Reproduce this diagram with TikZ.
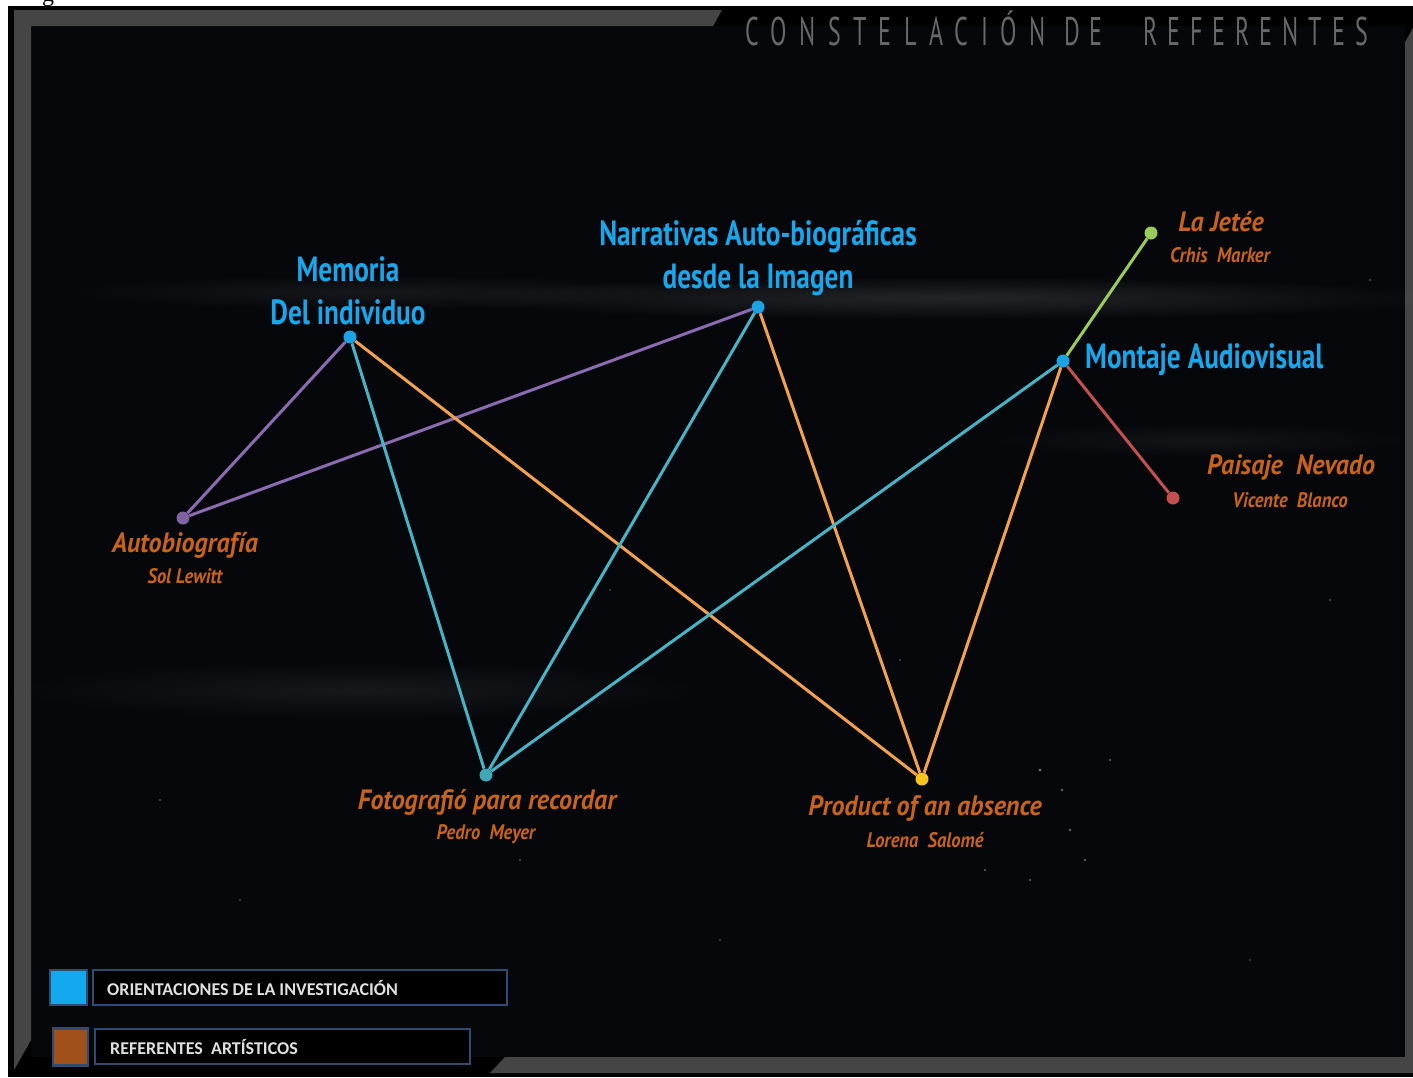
\documentclass[tikz,border=0pt]{standalone}
\usepackage{fontspec}
\usetikzlibrary{fadings}
\tikzfading[name=softglow, inner color=transparent!0, outer color=transparent!100]
\newfontfamily\bluefont[FakeStretch=0.78]{PT Sans}
\newfontfamily\orfont[FakeStretch=0.93]{PT Sans}
\newfontfamily\orsubfont[FakeStretch=0.88]{PT Sans}
\newfontfamily\titlefont[FakeStretch=0.6,LetterSpace=25]{PT Sans}
\newfontfamily\titlewidefont[FakeStretch=0.6,LetterSpace=31]{PT Sans}
\newfontfamily\legfont{Carlito}
\newfontfamily\serfont{Liberation Serif}
\definecolor{bg}{HTML}{06070A}
\definecolor{band}{HTML}{454545}
\definecolor{bluetxt}{HTML}{1AA6EA}
\definecolor{orangetxt}{HTML}{C8631C}
\definecolor{lorange}{HTML}{F2A14E}
\definecolor{lteal}{HTML}{47B3C4}
\definecolor{lpurple}{HTML}{8A6BB0}
\definecolor{lgreen}{HTML}{9BCB5B}
\definecolor{lred}{HTML}{C2504E}
\definecolor{dyellow}{HTML}{F6C21C}
\definecolor{dblue}{HTML}{1BA3E6}
\definecolor{dteal}{HTML}{3FA8B8}
\definecolor{dpurple}{HTML}{7E62A2}
\definecolor{legblue}{HTML}{12A9EF}
\definecolor{legorange}{HTML}{A0501A}
\definecolor{legborder}{HTML}{2E4C72}
\definecolor{titlegray}{HTML}{686868}
\tikzset{
  dot/.style={circle, minimum size=13pt, inner sep=0pt},
  edge/.style={line width=3pt},
  bluelabel/.style={text=bluetxt, inner sep=0pt, font=\bluefont\bfseries\fontsize{35}{43}\selectfont, align=center},
  ortitle/.style={text=orangetxt, inner sep=0pt, font=\orfont\bfseries\itshape\fontsize{28}{30}\selectfont},
  orsub/.style={text=orangetxt, inner sep=0pt, font=\orsubfont\bfseries\itshape\fontsize{21}{23}\selectfont},
  legbox/.style={draw=legborder, line width=1.5pt, fill=black, inner sep=0pt},
  legsq/.style={draw=legborder, line width=2.5pt, inner sep=0pt},
  legtext/.style={text=white!88!black, inner sep=0pt, font=\legfont\bfseries\fontsize{18}{20}\selectfont, anchor=west},
  titleword/.style={anchor=base west, inner sep=0pt, text=titlegray, font=\titlefont\fontsize{40}{42}\selectfont},
  glow/.style={fill=white, path fading=softglow}
}
\begin{document}
\begin{tikzpicture}[x=1pt,y=-1pt]
\useasboundingbox (0,0) rectangle (1413,1077);
\fill[white] (0,0) rectangle (1413,1077);
\node[anchor=base, inner sep=0pt, font=\serfont\fontsize{24}{24}\selectfont] (gfrag) at (48,1) {g};
% panel
\fill[black] (8,6) rectangle (1413,1077);
\fill[bg] (31,26) rectangle (1405,1057);
\fill[band] (14,10) -- (722,10) -- (713,26) -- (31,26) -- (31,1040) -- (14,1070) -- cycle;
\fill[band] (505,1057) -- (1405,1057) -- (1405,42) -- (1413,28) -- (1413,1073) -- (490,1073) -- cycle;
% nebula streaks
\path[glow, opacity=0.12] (950,298) ellipse (520 and 22);
\path[glow, opacity=0.07] (380,292) ellipse (330 and 18);
\path[glow, opacity=0.07] (360,690) ellipse (360 and 30);
\path[glow, opacity=0.06] (1200,440) ellipse (220 and 18);
% stars
\foreach \sx/\sy/\so in {1040/770/0.5,1062/790/0.4,1085/860/0.35,1030/880/0.3,1005/810/0.3,1070/830/0.4,985/870/0.3,1110/760/0.3,520/860/0.25,460/1000/0.25,1330/600/0.25,1370/280/0.25,160/800/0.25,240/900/0.2,720/940/0.2,900/660/0.2,1250/960/0.2,610/590/0.2}
  \fill[white, opacity=\so] (\sx,\sy) circle (1.3);
% title
\node[titleword, font=\titlewidefont\fontsize{40}{42}\selectfont] (title1) at (745,45) {CONSTELACIÓN};
\node[titleword] (title2) at (1064,45) {DE};
\node[titleword] (title3) at (1143,45) {REFERENTES};
% dots
\node[dot, fill=dblue] (mem) at (350,337) {};
\node[dot, fill=dblue] (nar) at (758,307) {};
\node[dot, fill=dblue] (mon) at (1063,361) {};
\node[dot, fill=dpurple] (aut) at (183,518) {};
\node[dot, fill=dteal] (fot) at (486,775) {};
\node[dot, fill=dyellow] (pro) at (922,779) {};
\node[dot, fill=lgreen] (jet) at (1151,233) {};
\node[dot, fill=lred] (pai) at (1173,498) {};
% edges
\begin{scope}[edge]
\draw[lpurple] (aut) -- (mem);
\draw[lpurple] (aut) -- (nar);
\draw[lteal] (mem) -- (fot);
\draw[lorange] (mem) -- (pro);
\draw[lteal] (nar) -- (fot);
\draw[lorange] (nar) -- (pro);
\draw[lteal] (mon) -- (fot);
\draw[lorange] (mon) -- (pro);
\draw[lgreen] (mon) -- (jet);
\draw[lred] (mon) -- (pai);
\end{scope}
% blue labels
\node[bluelabel] (memL) at (348,291) {Memoria\\Del individuo};
\node[bluelabel] (narL) at (758,258) {Narrativas Auto-biográficas\\desde la Imagen};
\node[bluelabel, anchor=west] (monL) at (1085,360) {Montaje Audiovisual};
% orange labels
\node[ortitle] (autT) at (185,545) {Autobiografía};
\node[orsub] (autS) at (185,576) {Sol Lewitt};
\node[ortitle] (fotT) at (487,802) {Fotografió para recordar};
\node[orsub] (fotS) at (486,834) {Pedro\ \ Meyer};
\node[ortitle] (proT) at (925,808) {Product of an absence};
\node[orsub] (proS) at (925,840) {Lorena\ \ Salomé};
\node[ortitle] (jetT) at (1221,222) {La Jetée};
\node[orsub] (jetS) at (1220,255) {Crhis\ \ Marker};
\node[ortitle] (paiT) at (1291,467) {Paisaje\ \ Nevado};
\node[orsub] (paiS) at (1290,500) {Vicente\ \ Blanco};
% legend
\node[legsq, fill=legblue, minimum width=37pt, minimum height=35pt] (sq1) at (68.5,987.5) {};
\node[legbox, minimum width=414pt, minimum height=35pt] (box1) at (300,987.5) {};
\node[legtext] (t1) at (107,988) {ORIENTACIONES DE LA INVESTIGACIÓN};
\node[legsq, fill=legorange, minimum width=35pt, minimum height=37pt] (sq2) at (70.5,1047) {};
\node[legbox, minimum width=375pt, minimum height=35pt] (box2) at (282.5,1046.5) {};
\node[legtext] (t2) at (110,1047) {REFERENTES\ \ ARTÍSTICOS};
\end{tikzpicture}
\end{document}
